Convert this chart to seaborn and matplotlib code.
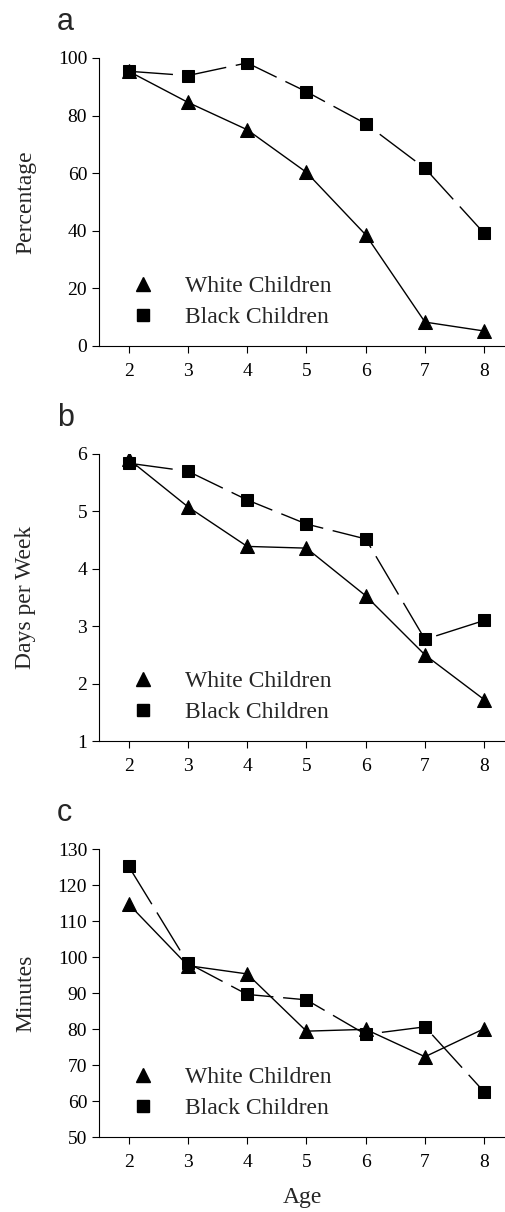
import numpy as np
import matplotlib
matplotlib.use("Agg")
import matplotlib.pyplot as plt
from matplotlib.lines import Line2D
import seaborn as sns

ages = [2, 3, 4, 5, 6, 7, 8]

# panel a: percentage
white_pct = [95.4, 84.6, 75.1, 60.3, 38.6, 8.3, 5.2]
black_pct = [95.4, 93.9, 98.3, 88.3, 77.2, 61.7, 39.1]

# panel b: days per week
white_days = [5.91, 5.08, 4.39, 4.36, 3.53, 2.50, 1.72]
black_days = [5.84, 5.70, 5.20, 4.78, 4.52, 2.77, 3.10]

# panel c: minutes
white_min = [114.7, 97.6, 95.3, 79.4, 79.9, 72.3, 80.1]
black_min = [125.2, 98.3, 89.6, 88.1, 78.5, 80.6, 62.5]

panels = [
    ("a", "Percentage", white_pct, black_pct, (0, 100), [0, 20, 40, 60, 80, 100]),
    ("b", "Days per Week", white_days, black_days, (1, 6), [1, 2, 3, 4, 5, 6]),
    ("c", "Minutes", white_min, black_min, (50, 130), [50, 60, 70, 80, 90, 100, 110, 120, 130]),
]

sns.set_style("ticks")
plt.rcParams["font.family"] = ["Liberation Serif", "DejaVu Serif"]

W, H = 506, 1212
fig = plt.figure(figsize=(W / 100, H / 100), dpi=100)

# axes top/bottom in pixels
boxes = [(58, 346), (454, 741), (849, 1137)]
left_px, right_px = 99, 505

for (letter, ylab, white, black, ylim, yticks), (top, bot) in zip(panels, boxes):
    ax = fig.add_axes([left_px / W, 1 - bot / H, (right_px - left_px) / W, (bot - top) / H])
    sns.lineplot(x=ages, y=white, ax=ax, color="black", linewidth=1.0,
                 marker="^", markersize=9.5, markeredgecolor="black", markerfacecolor="black")
    sns.lineplot(x=ages, y=black, ax=ax, color="black", linewidth=1.0,
                 linestyle=(0, (32, 7)),
                 marker="s", markersize=8.5, markeredgecolor="black", markerfacecolor="black")
    ax.set_xlim(1.5, 8.35)
    ax.set_ylim(*ylim)
    ax.set_xticks(ages)
    ax.set_yticks(yticks)
    ax.tick_params(axis="both", direction="out", length=5, width=0.8, labelsize=14, colors="black")
    ax.tick_params(axis="x", pad=7)
    sns.despine(ax=ax)
    for s in ["left", "bottom"]:
        ax.spines[s].set_linewidth(0.8)
        ax.spines[s].set_color("black")
    ax.set_ylabel(ylab, fontsize=17)
    ax.yaxis.set_label_coords(-0.155, 0.5)
    ax.set_xlabel("")

    handles = [
        Line2D([], [], linestyle="none", marker="^", markersize=9.5, color="black"),
        Line2D([], [], linestyle="none", marker="s", markersize=8.5, color="black"),
    ]
    ax.legend(handles, ["White Children", "Black Children"], loc="lower left",
              bbox_to_anchor=(0.028, -0.012), frameon=False, fontsize=17,
              handlelength=1.0, handletextpad=1.25, labelspacing=0.4)

    fig.text(57 / W, 1 - (top - 28) / H, letter, fontsize=22,
             family=["Liberation Sans", "DejaVu Sans"], va="baseline", ha="left")

    if letter == "c":
        ax.set_xlabel("Age", fontsize=17, labelpad=12)

fig.savefig("out.png", dpi=100)
